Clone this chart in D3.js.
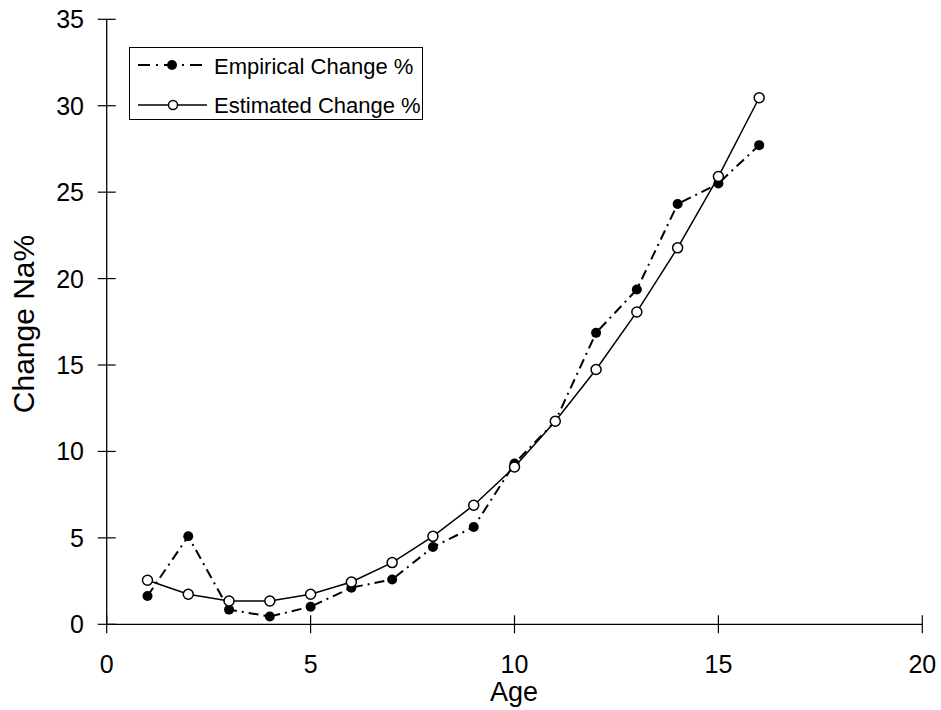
<!DOCTYPE html>
<html>
<head>
<meta charset="utf-8">
<script src="https://cdn.jsdelivr.net/npm/d3@7"></script>
<style>
  html, body { margin: 0; padding: 0; background: #fff; }
  svg { display: block; font-family: "Liberation Sans", Arial, sans-serif; }
</style>
</head>
<body>
<svg id="chart" width="941" height="710"></svg>
<script>
const ages = [1, 2, 3, 4, 5, 6, 7, 8, 9, 10, 11, 12, 13, 14, 15, 16];
const empirical = [1.64, 5.09, 0.85, 0.45, 1.02, 2.12, 2.59, 4.47, 5.63, 9.30, 11.75, 16.86, 19.37, 24.31, 25.50, 27.72];
const estimated = [2.55, 1.74, 1.35, 1.35, 1.74, 2.45, 3.57, 5.09, 6.89, 9.10, 11.75, 14.74, 18.07, 21.78, 25.90, 30.46];
const xTicks = [0, 5, 10, 15, 20];
const yTicks = [0, 5, 10, 15, 20, 25, 30, 35];
const seriesNames = ["Empirical Change %", "Estimated Change %"];
const xTitle = "Age";
const yTitle = "Change Na%";

const svg = d3.select("#chart");
const x = d3.scaleLinear().domain([0, 20]).range([106.7, 922.3]);
const y = d3.scaleLinear().domain([0, 35]).range([624.3, 19.3]);
const TICK_FS = 25;
const LEG_FS = 22;

// Axes lines
svg.append("line").attr("x1", x(0)).attr("x2", x(20)).attr("y1", y(0)).attr("y2", y(0))
  .attr("stroke", "#000").attr("stroke-width", 1.3);
svg.append("line").attr("x1", x(0)).attr("x2", x(0)).attr("y1", y(0)).attr("y2", y(35))
  .attr("stroke", "#000").attr("stroke-width", 1.3);

// x ticks (cross)
const xg = svg.append("g");
xTicks.forEach(t => {
  xg.append("line").attr("x1", x(t)).attr("x2", x(t)).attr("y1", y(0) - 9).attr("y2", y(0) + 9)
    .attr("stroke", "#000").attr("stroke-width", 1.2);
  xg.append("text").attr("x", x(t)).attr("y", 673).attr("text-anchor", "middle")
    .attr("font-size", TICK_FS).attr("fill", "#000").text(t);
});
// y ticks (cross)
const yg = svg.append("g");
yTicks.forEach(t => {
  yg.append("line").attr("x1", x(0) - 9).attr("x2", x(0) + 9).attr("y1", y(t)).attr("y2", y(t))
    .attr("stroke", "#000").attr("stroke-width", 1.2);
  yg.append("text").attr("x", 84).attr("y", y(t)).attr("dy", "0.36em").attr("text-anchor", "end")
    .attr("font-size", TICK_FS).attr("fill", "#000").text(t);
});

// Axis titles
svg.append("text").attr("x", 514).attr("y", 701).attr("text-anchor", "middle")
  .attr("font-size", 27).text(xTitle);
svg.append("text").attr("transform", `translate(34,324) rotate(-90)`)
  .attr("text-anchor", "middle").attr("font-size", 30).text(yTitle);

// Lines
const line = d3.line().x(d => x(d[0])).y(d => y(d[1]));
const empData = ages.map((a, i) => [a, empirical[i]]);
const estData = ages.map((a, i) => [a, estimated[i]]);

svg.append("path").datum(empData).attr("d", line).attr("fill", "none")
  .attr("stroke", "#000").attr("stroke-width", 2).attr("stroke-dasharray", "10,5,2,5");
svg.append("g").selectAll("circle").data(empData).join("circle")
  .attr("cx", d => x(d[0])).attr("cy", d => y(d[1])).attr("r", 5).attr("fill", "#000");

svg.append("path").datum(estData).attr("d", line).attr("fill", "none")
  .attr("stroke", "#000").attr("stroke-width", 1.5);
svg.append("g").selectAll("circle").data(estData).join("circle")
  .attr("cx", d => x(d[0])).attr("cy", d => y(d[1])).attr("r", 5)
  .attr("fill", "#fff").attr("stroke", "#000").attr("stroke-width", 1.5);

// Legend
const lg = svg.append("g");
lg.append("rect").attr("x", 129.5).attr("y", 47.5).attr("width", 293).attr("height", 72)
  .attr("fill", "#fff").attr("stroke", "#000").attr("stroke-width", 1);
lg.append("line").attr("x1", 138).attr("x2", 207).attr("y1", 65).attr("y2", 65)
  .attr("stroke", "#000").attr("stroke-width", 2).attr("stroke-dasharray", "12,6,2,6");
lg.append("circle").attr("cx", 172).attr("cy", 65).attr("r", 5).attr("fill", "#000");
lg.append("line").attr("x1", 138).attr("x2", 207).attr("y1", 105).attr("y2", 105)
  .attr("stroke", "#000").attr("stroke-width", 1.5);
lg.append("circle").attr("cx", 173).attr("cy", 105).attr("r", 4.5)
  .attr("fill", "#fff").attr("stroke", "#000").attr("stroke-width", 1.5);
lg.append("text").attr("x", 214).attr("y", 66).attr("dy", "0.36em").attr("font-size", LEG_FS).text(seriesNames[0]);
lg.append("text").attr("x", 214).attr("y", 105).attr("dy", "0.36em").attr("font-size", LEG_FS).text(seriesNames[1]);
</script>
</body>
</html>
